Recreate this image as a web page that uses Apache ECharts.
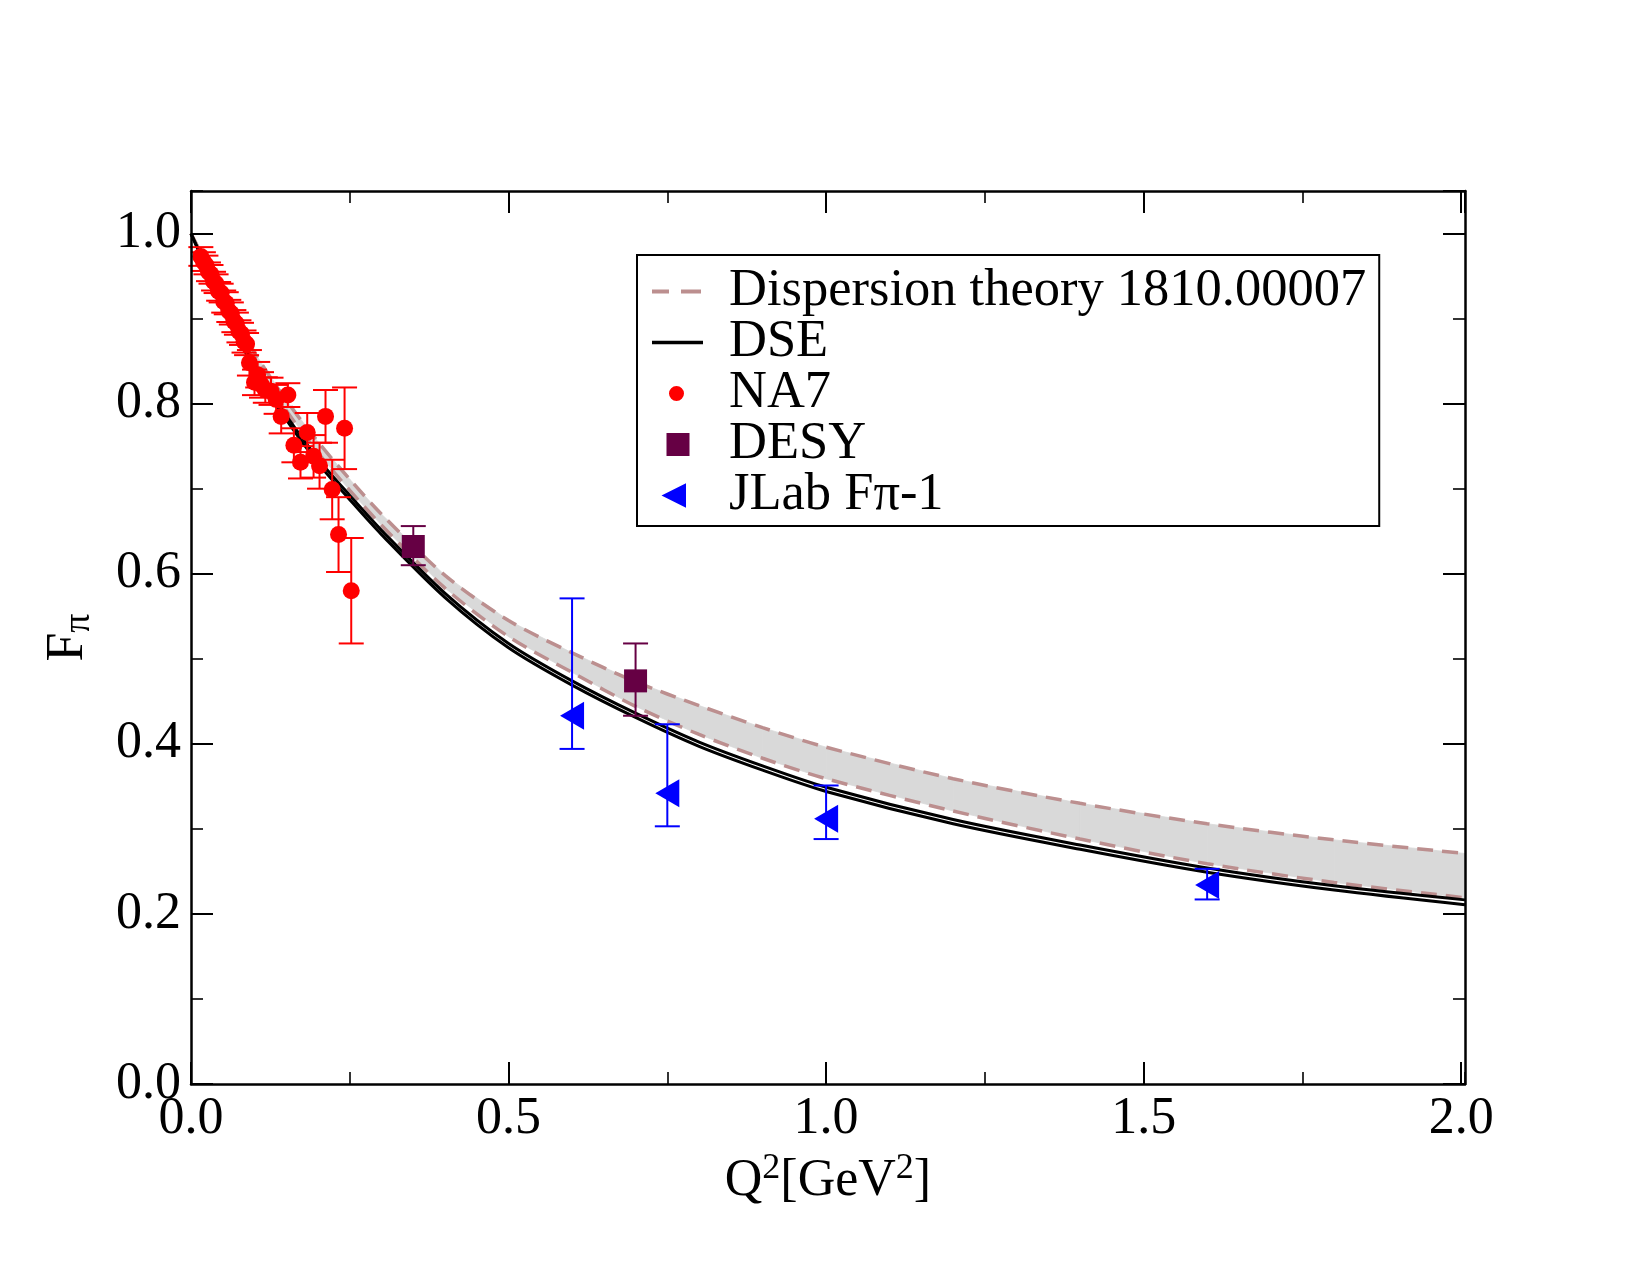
<!DOCTYPE html>
<html>
<head>
<meta charset="utf-8">
<script src="https://cdn.jsdelivr.net/npm/echarts@6/dist/echarts.min.js"></script>
<style>
  html, body { margin: 0; padding: 0; background: #fff; }
  #main { width: 1650px; height: 1275px; }
</style>
</head>
<body>
<div id="main"></div>
<script>
// curves
var curveX = [0, 0.05, 0.1, 0.15, 0.2, 0.25, 0.3, 0.4, 0.5, 0.6, 0.7, 0.8, 0.9, 1.0, 1.2, 1.4, 1.6, 1.8, 2.006];
var dtLo   = [1.0, 0.923, 0.850, 0.792, 0.742, 0.698, 0.657, 0.583, 0.526, 0.484, 0.444, 0.411, 0.383, 0.359, 0.321, 0.288, 0.259, 0.237, 0.219];
var dtHi   = [1.0, 0.928, 0.860, 0.804, 0.755, 0.711, 0.670, 0.598, 0.545, 0.507, 0.473, 0.445, 0.419, 0.396, 0.359, 0.330, 0.306, 0.287, 0.271];
var dseHi  = [1.0, 0.920, 0.845, 0.786, 0.735, 0.692, 0.651, 0.577, 0.518, 0.474, 0.436, 0.402, 0.374, 0.349, 0.311, 0.281, 0.254, 0.233, 0.2165];
var dseLo  = [1.0, 0.916, 0.840, 0.781, 0.730, 0.687, 0.646, 0.572, 0.513, 0.469, 0.431, 0.397, 0.369, 0.344, 0.306, 0.276, 0.249, 0.228, 0.2108];

// NA7
var na7X = [0.0155, 0.0195, 0.0235, 0.0275, 0.0315, 0.0355, 0.0395, 0.0435, 0.0475,
            0.0515, 0.0555, 0.0595, 0.0635, 0.0675, 0.0715, 0.0755, 0.0795, 0.0835, 0.0875,
            0.092, 0.100, 0.105, 0.111, 0.117, 0.126, 0.134, 0.142, 0.1525,
            0.162, 0.1724, 0.183, 0.193, 0.2024, 0.2118, 0.2223, 0.2323, 0.2418, 0.2523];
var na7Y = [0.973, 0.967, 0.963, 0.955, 0.952, 0.944, 0.941, 0.932, 0.930,
            0.920, 0.918, 0.909, 0.906, 0.897, 0.894, 0.885, 0.882, 0.873, 0.870,
            0.848, 0.825, 0.834, 0.822, 0.816, 0.8145, 0.805, 0.785, 0.810,
            0.751, 0.731, 0.766, 0.738, 0.727, 0.785, 0.699, 0.646, 0.771, 0.580];
var na7Err = [0.011, 0.011, 0.011, 0.011, 0.011, 0.011, 0.011, 0.011, 0.011,
              0.013, 0.013, 0.013, 0.013, 0.013, 0.013, 0.013, 0.013, 0.013, 0.013,
              0.015, 0.015, 0.015, 0.015, 0.015, 0.016, 0.017, 0.020, 0.014,
              0.020, 0.019, 0.023, 0.025, 0.027, 0.031, 0.035, 0.044, 0.048, 0.062];

// DESY
var desyX  = [0.35, 0.70];
var desyY  = [0.632, 0.474];
var desyLo = [0.610, 0.433];
var desyHi = [0.656, 0.518];

// JLab F-pi 1
var jlabX  = [0.60, 0.75, 1.00, 1.60];
var jlabY  = [0.433, 0.342, 0.312, 0.234];
var jlabLo = [0.394, 0.303, 0.288, 0.217];
var jlabHi = [0.571, 0.423, 0.351, 0.253];

var FONT = 'Liberation Serif';
var DASH_C = '#bc8f8f';

function pairs(xs, ys) { return xs.map(function (x, i) { return [x, ys[i]]; }); }

function errBars(color) {
  return function (params, api) {
    var x = api.value(0);
    var top = api.coord([x, api.value(2)]);
    var bot = api.coord([x, api.value(1)]);
    var hw = 12.5;
    var st = { stroke: color, lineWidth: 2 };
    return {
      type: 'group',
      children: [
        { type: 'line', shape: { x1: top[0], y1: top[1], x2: bot[0], y2: bot[1] }, style: st },
        { type: 'line', shape: { x1: top[0] - hw, y1: top[1], x2: top[0] + hw, y2: top[1] }, style: st },
        { type: 'line', shape: { x1: bot[0] - hw, y1: bot[1], x2: bot[0] + hw, y2: bot[1] }, style: st }
      ]
    };
  };
}

// band between the two dispersion curves, one quad per interval
function bandItem(params, api) {
  var i = params.dataIndexInside;
  if (i >= params.dataInsideLength - 1) return null;
  var a = api.coord([api.value(0, i), api.value(1, i)]);
  var b = api.coord([api.value(0, i + 1), api.value(1, i + 1)]);
  var c = api.coord([api.value(0, i + 1), api.value(2, i + 1)]);
  var d = api.coord([api.value(0, i), api.value(2, i)]);
  return {
    type: 'polygon',
    shape: { points: [a, b, c, d] },
    style: { fill: '#d9d9d9', stroke: '#d9d9d9', lineWidth: 0.8 }
  };
}

var A = 'M0,0h0.01v0.01h-0.01Z M74,25h-0.01v-0.01h0.01Z ';
var ICON_DASH = 'path://' + A + 'M2,10.5h17v4h-17Z M31,10.5h20v4h-20Z';
var ICON_LINE = 'path://' + A + 'M2,10.75h51v3.5h-51Z';
var ICON_DOT  = 'path://' + A + 'M19,12.5a7.5,7.5 0 1,0 15,0a7.5,7.5 0 1,0 -15,0Z';
var ICON_SQ   = 'path://' + A + 'M16.5,1h23v23h-23Z';
var ICON_TRI  = 'path://' + A + 'M11.5,12.5L36,0.2L36,24.8Z';

function axisX(pos, interval, len, main) {
  return {
    type: 'value', min: 0, max: 2.006, interval: interval, position: pos, z: 10,
    axisLine: { show: main, onZero: false, lineStyle: { color: '#000', width: 2.5 } },
    axisTick: { show: true, inside: true, length: len, lineStyle: { color: '#000', width: main ? 2 : 1.6 } },
    splitLine: { show: false },
    axisLabel: { show: false }
  };
}
function axisY(pos, interval, len, main) {
  return {
    type: 'value', min: 0, max: 1.05, interval: interval, position: pos, z: 10,
    axisLine: { show: main, onZero: false, lineStyle: { color: '#000', width: 2.5 } },
    axisTick: { show: true, inside: true, length: len, lineStyle: { color: '#000', width: main ? 2 : 1.6 } },
    splitLine: { show: false },
    axisLabel: { show: false }
  };
}

var xMain = axisX('bottom', 0.5, 22, true);
xMain.axisLabel = {
  show: true, margin: 9, showMaxLabel: false,
  color: '#000', fontFamily: FONT, fontSize: 52,
  formatter: function (v) { return v.toFixed(1); }
};
xMain.name = '{b|Q}{s|2}{b|[GeV}{s|2}{b|]}';
xMain.nameLocation = 'middle';
xMain.nameGap = 67;
xMain.nameMoveOverlap = false;
xMain.nameTextStyle = {
  rich: {
    b: { color: '#000', fontFamily: FONT, fontSize: 52, lineHeight: 60 },
    s: { color: '#000', fontFamily: FONT, fontSize: 36, lineHeight: 20, verticalAlign: 'top' }
  }
};

var yMain = axisY('left', 0.2, 22, true);
yMain.axisLabel = {
  show: true, margin: 10, showMaxLabel: false,
  color: '#000', fontFamily: FONT, fontSize: 52,
  formatter: function (v) { return v.toFixed(1); }
};
yMain.name = '{b|F}{s|\u03c0}';
yMain.nameLocation = 'middle';
yMain.nameGap = 93;
yMain.nameMoveOverlap = false;
yMain.nameTextStyle = {
  rich: {
    b: { color: '#000', fontFamily: FONT, fontSize: 52, lineHeight: 60 },
    s: { color: '#000', fontFamily: FONT, fontSize: 38, lineHeight: 30, verticalAlign: 'bottom' }
  }
};

var myChart = echarts.init(document.getElementById('main'));
var option = {
  animation: false,
  backgroundColor: '#fff',
  grid: { left: 191, right: 185, top: 191, bottom: 191 },
  xAxis: [
    xMain,
    axisX('bottom', 0.25, 12, false),
    axisX('top', 0.5, 22, true),
    axisX('top', 0.25, 12, false)
  ],
  yAxis: [
    yMain,
    axisY('left', 0.1, 12, false),
    axisY('right', 0.2, 22, true),
    axisY('right', 0.1, 12, false)
  ],
  legend: {
    orient: 'vertical', left: 637, top: 255,
    padding: [10, 13, 4, 13], itemGap: -2,
    itemWidth: 74, itemHeight: 25,
    borderColor: '#000', borderWidth: 2, backgroundColor: '#fff',
    selectedMode: false,
    textStyle: { color: '#000', fontFamily: FONT, fontSize: 52.5, lineHeight: 51 },
    itemStyle: { borderWidth: 0, opacity: 1 },
    data: [
      { name: 'Dispersion theory 1810.00007', icon: ICON_DASH },
      { name: 'DSE', icon: ICON_LINE },
      { name: 'NA7', icon: ICON_DOT },
      { name: 'DESY', icon: ICON_SQ },
      { name: 'JLab F\u03c0-1', icon: ICON_TRI }
    ]
  },
  series: [
    {
      name: 'band', type: 'custom', z: 1, clip: true,
      renderItem: bandItem,
      encode: { x: 0, y: [1, 2] },
      data: curveX.map(function (x, i) { return [x, dtLo[i], dtHi[i]]; })
    },
    {
      name: 'Dispersion theory 1810.00007', type: 'line', z: 2, color: DASH_C,
      symbol: 'none', smooth: 0.3,
      lineStyle: { color: DASH_C, width: 3.5, type: [16, 9] },
      data: pairs(curveX, dtLo)
    },
    {
      name: 'dtUpper', type: 'line', z: 2, color: DASH_C,
      symbol: 'none', smooth: 0.3,
      lineStyle: { color: DASH_C, width: 3.5, type: [16, 9] },
      data: pairs(curveX, dtHi)
    },
    {
      name: 'DSE', type: 'line', z: 3, color: '#000',
      symbol: 'none', smooth: 0.3,
      lineStyle: { color: '#000', width: 3 },
      data: pairs(curveX, dseHi)
    },
    {
      name: 'dseLower', type: 'line', z: 3, color: '#000',
      symbol: 'none', smooth: 0.3,
      lineStyle: { color: '#000', width: 3 },
      data: pairs(curveX, dseLo)
    },
    {
      name: 'na7err', type: 'custom', z: 4,
      renderItem: errBars('#ff0000'),
      encode: { x: 0, y: [1, 2] },
      data: na7X.map(function (x, i) { return [x, na7Y[i] - na7Err[i], na7Y[i] + na7Err[i]]; })
    },
    {
      name: 'desyerr', type: 'custom', z: 4,
      renderItem: errBars('#660044'),
      encode: { x: 0, y: [1, 2] },
      data: desyX.map(function (x, i) { return [x, desyLo[i], desyHi[i]]; })
    },
    {
      name: 'jlaberr', type: 'custom', z: 4,
      renderItem: errBars('#0000ff'),
      encode: { x: 0, y: [1, 2] },
      data: jlabX.map(function (x, i) { return [x, jlabLo[i], jlabHi[i]]; })
    },
    {
      name: 'NA7', type: 'scatter', z: 5, color: '#ff0000',
      symbol: 'circle', symbolSize: 17,
      itemStyle: { opacity: 1 },
      data: pairs(na7X, na7Y)
    },
    {
      name: 'DESY', type: 'scatter', z: 5, color: '#660044',
      symbol: 'rect', symbolSize: 23,
      itemStyle: { opacity: 1 },
      data: pairs(desyX, desyY)
    },
    {
      name: 'JLab F\u03c0-1', type: 'scatter', z: 5, color: '#0000ff',
      symbol: 'path://M0,14L24,0L24,28Z', symbolSize: [24, 28],
      itemStyle: { opacity: 1 },
      data: pairs(jlabX, jlabY)
    }
  ]
};
myChart.setOption(option);
</script>
</body>
</html>
